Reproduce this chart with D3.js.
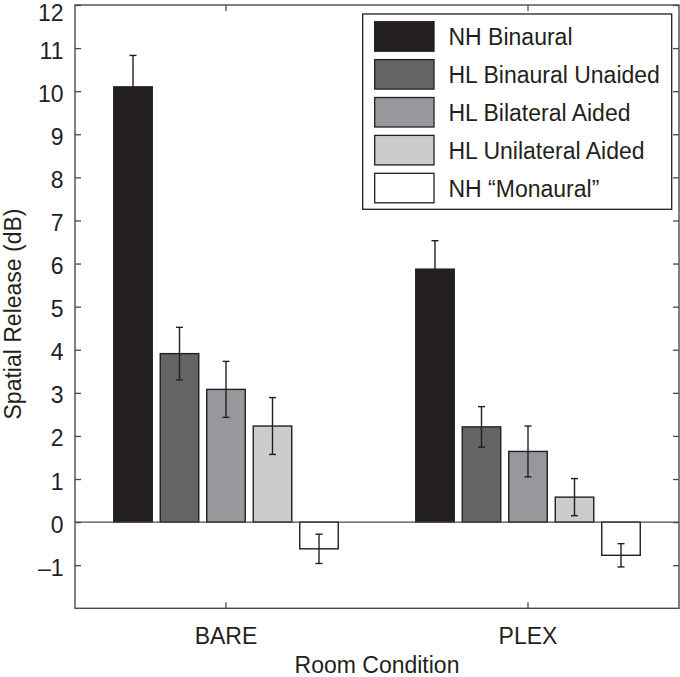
<!DOCTYPE html>
<html>
<head>
<meta charset="utf-8">
<script src="https://cdn.jsdelivr.net/npm/d3@7"></script>
<style>
  html, body { margin: 0; padding: 0; background: #fff; }
  svg { display: block; font-family: "Liberation Sans", Arial, Helvetica, sans-serif; }
</style>
</head>
<body>
<svg id="chart" width="680" height="677"></svg>
<script>
// ---- data ----
const categories = ["BARE", "PLEX"];
const seriesNames = ["NH Binaural", "HL Binaural Unaided", "HL Bilateral Aided", "HL Unilateral Aided", "NH \u201CMonaural\u201D"];
const seriesColors = ["#231f20", "#636466", "#97989b", "#cbcccd", "#ffffff"];
const bareValues = [10.10, 3.91, 3.08, 2.23, -0.62];
const bareErrors = [0.73, 0.61, 0.65, 0.66, 0.34];
const plexValues = [5.87, 2.21, 1.64, 0.58, -0.77];
const plexErrors = [0.66, 0.47, 0.59, 0.43, 0.27];
const yTicks = [-1, 0, 1, 2, 3, 4, 5, 6, 7, 8, 9, 10, 11, 12];
const yLabel = "Spatial Release (dB)";
const xLabel = "Room Condition";

const values = [bareValues, plexValues];
const errors = [bareErrors, plexErrors];

// ---- layout ----
const L = 75, R = 679, T = 5, B = 608.3;
const ink = "#231f20", axisCol = "#4a4a4a";
const svg = d3.select("#chart");

const x0 = d3.scaleBand().domain(categories).range([L, R]).padding(0);
const x1 = d3.scaleBand().domain(seriesNames).range([-112.25, 112.25]).paddingInner(0.172).paddingOuter(0);
const y = d3.scaleLinear().domain([-2, 12]).range([B, T]);
const center = c => x0(c) + x0.bandwidth() / 2;

// bars
const barData = [];
categories.forEach((c, ci) => {
  seriesNames.forEach((s, si) => {
    barData.push({ c, s, si, v: values[ci][si], e: errors[ci][si] });
  });
});

const g = svg.append("g");
g.selectAll("rect.bar").data(barData).enter().append("rect")
  .attr("class", "bar")
  .attr("x", d => center(d.c) + x1(d.s))
  .attr("width", x1.bandwidth())
  .attr("y", d => y(Math.max(0, d.v)))
  .attr("height", d => Math.abs(y(d.v) - y(0)))
  .attr("fill", d => seriesColors[d.si])
  .attr("stroke", ink)
  .attr("stroke-width", 1.4);

// zero line
svg.append("line").attr("x1", L).attr("x2", R).attr("y1", y(0)).attr("y2", y(0))
  .attr("stroke", axisCol).attr("stroke-width", 1.4);

// error bars
const eb = svg.append("g").attr("stroke", ink).attr("stroke-width", 1.4);
barData.forEach(d => {
  const cx = center(d.c) + x1(d.s) + x1.bandwidth() / 2;
  eb.append("line").attr("x1", cx).attr("x2", cx).attr("y1", y(d.v - d.e)).attr("y2", y(d.v + d.e));
  eb.append("line").attr("x1", cx - 3.5).attr("x2", cx + 3.5).attr("y1", y(d.v + d.e)).attr("y2", y(d.v + d.e));
  eb.append("line").attr("x1", cx - 3.5).attr("x2", cx + 3.5).attr("y1", y(d.v - d.e)).attr("y2", y(d.v - d.e));
});

// axes (inward ticks, mirrored box)
const fmt = v => v < 0 ? "\u2013" + Math.abs(v) : String(v);
const yAxisL = svg.append("g").attr("transform", `translate(${L},0)`)
  .call(d3.axisRight(y).tickValues(yTicks).tickSize(6).tickFormat(""));
const yAxisR = svg.append("g").attr("transform", `translate(${R},0)`)
  .call(d3.axisLeft(y).tickValues(yTicks).tickSize(6).tickFormat(""));
const xAxisB = svg.append("g").attr("transform", `translate(0,${B})`)
  .call(d3.axisTop(x0).tickSize(6).tickFormat(""));
const xAxisT = svg.append("g").attr("transform", `translate(0,${T})`)
  .call(d3.axisBottom(x0).tickSize(6).tickFormat(""));
[yAxisL, yAxisR, xAxisB, xAxisT].forEach(a => {
  a.selectAll(".domain").remove();
  a.selectAll("line").attr("stroke", axisCol).attr("stroke-width", 1.3);
});
svg.append("rect").attr("x", L).attr("y", T).attr("width", R - L).attr("height", B - T)
  .attr("fill", "none").attr("stroke", axisCol).attr("stroke-width", 1.4);

// tick labels
svg.append("g").selectAll("text").data(yTicks).enter().append("text")
  .attr("x", 63.5).attr("y", d => Math.max(y(d) + 10.5, 21))
  .attr("text-anchor", "end").attr("font-size", 23).attr("fill", ink)
  .text(fmt);
svg.append("g").selectAll("text").data(categories).enter().append("text")
  .attr("x", d => center(d)).attr("y", 644)
  .attr("text-anchor", "middle").attr("font-size", 23).attr("fill", ink)
  .text(d => d);

// axis labels
svg.append("text").attr("x", (L + R) / 2).attr("y", 673)
  .attr("text-anchor", "middle").attr("font-size", 23).attr("fill", ink).text(xLabel);
svg.append("text").attr("transform", "translate(20.5,314) rotate(-90)")
  .attr("text-anchor", "middle").attr("font-size", 23).attr("fill", ink).text(yLabel);

// legend
const lg = svg.append("g");
lg.append("rect").attr("x", 362.7).attr("y", 14).attr("width", 309).attr("height", 195.3)
  .attr("fill", "#fff").attr("stroke", ink).attr("stroke-width", 1.3);
seriesNames.forEach((s, i) => {
  const yy = 21.7 + i * 37.9;
  lg.append("rect").attr("x", 374.7).attr("y", yy).attr("width", 59.3).attr("height", 29.5)
    .attr("fill", seriesColors[i]).attr("stroke", ink).attr("stroke-width", 1.3);
  lg.append("text").attr("x", 448.5).attr("y", yy + 23.5).attr("font-size", 23).attr("fill", ink).text(s);
});
</script>
</body>
</html>
